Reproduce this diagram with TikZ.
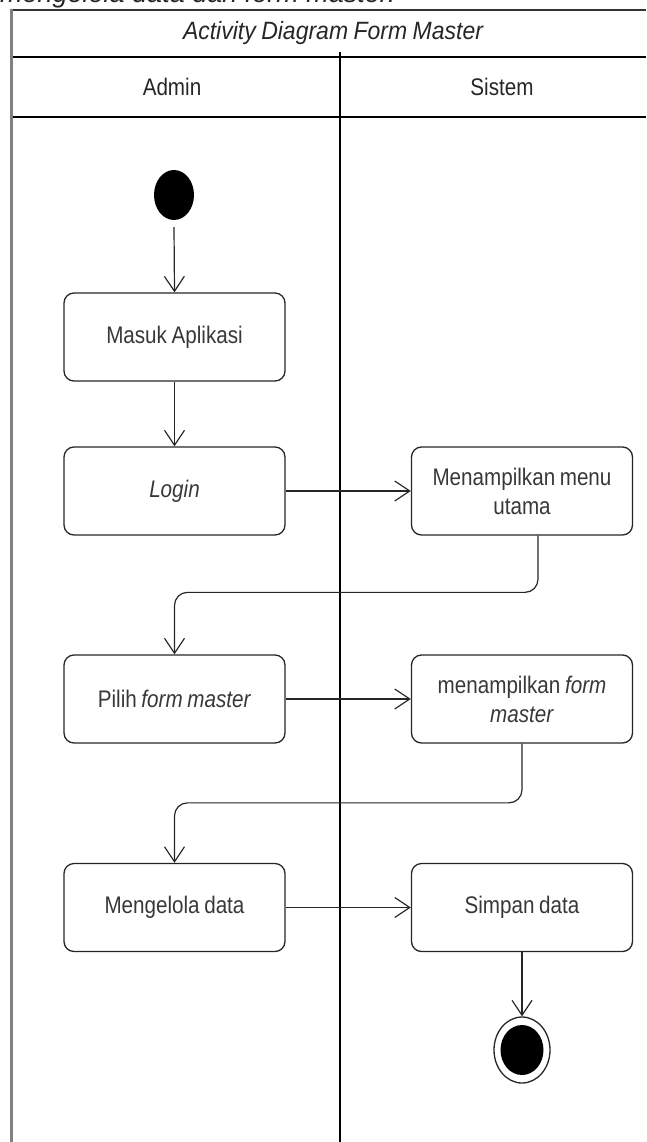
\documentclass[tikz,border=0pt]{standalone}
\usepackage{fontspec}
\setmainfont{Liberation Sans}[FakeStretch=0.86,WordSpace=0.8]
\newfontfamily\plainfont{Liberation Sans}
\newfontfamily\titlefont{Liberation Sans}[FakeStretch=0.92,WordSpace=0.85]
\usetikzlibrary{shapes.geometric,arrows.meta,calc}
\begin{document}
\begin{tikzpicture}[x=1pt,y=-1pt,
  actbox/.style={draw=black!85, line width=1.3pt, rounded corners=10pt,
    minimum width=221pt, minimum height=88pt, align=center,
    inner sep=0pt, font=\fontsize{24}{29}\selectfont, text=black!78},
  arr/.style={draw=black!85, line width=1.2pt, -{Straight Barb[length=15pt,width=20pt,line width=1.2pt]}},
  lane/.style={draw=black, line width=1.3pt},
  lanetext/.style={font=\fontsize{24}{28}\selectfont, text=black!85}]
\useasboundingbox (0,0) rectangle (646,1142);
\clip (0,0) rectangle (646,1142);
% cut-off caption at top
\node[anchor=base west, inner sep=0pt, font=\plainfont\itshape\fontsize{27}{30}\selectfont, text=black!85] (cap) at (0,3) {mengelola data dari form master.};
% swimlane frame
\draw[lane, draw=black!80] (10,10) -- (646,10);
\draw[draw=black!50, line width=3pt] (11.5,9) -- (11.5,1142);
\draw[lane] (13,57) -- (646,57);
\draw[lane] (13,117) -- (646,117);
\draw[lane] (340,52) -- (340,1142);
\node[lanetext, font=\titlefont\itshape\fontsize{25}{28}\selectfont] (title) at (333,33) {Activity Diagram Form Master};
\node[lanetext] (admin) at (172,87) {Admin};
\node[lanetext] (sistem) at (502,87) {Sistem};
% nodes
\node[ellipse, fill=black, minimum width=40pt, minimum height=50pt, inner sep=0pt] (start) at (174,195) {};
\node[actbox] (masuk) at (174.5,337) {Masuk Aplikasi};
\node[actbox] (login) at (174.5,491) {\itshape Login};
\node[actbox] (menu) at (522,491) {Menampilkan menu\\utama};
\node[actbox] (pilih) at (174.5,699) {Pilih \textit{form master}};
\node[actbox] (formm) at (522,699) {menampilkan \textit{form}\\\textit{master}};
\node[actbox] (kelola) at (174.5,907.5) {Mengelola data};
\node[actbox] (simpan) at (522,907.5) {Simpan data};
\node[ellipse, draw=black!85, line width=1.3pt, fill=white, minimum width=56pt, minimum height=66pt, inner sep=0pt] (end) at (522,1050) {};
\node[ellipse, fill=black, minimum width=43pt, minimum height=50pt, inner sep=0pt] (endin) at (end.center) {};
% connectors
\draw[arr] ([yshift=-7pt]start.south) -- (masuk.north);
\draw[arr] (masuk.south) -- (login.north);
\draw[arr] (login.east) -- (menu.west);
\draw[arr, rounded corners=13pt] ([xshift=16pt]menu.south) |- ($(pilih.north)+(0,-62)$) -- (pilih.north);
\draw[arr] (pilih.east) -- (formm.west);
\draw[arr, rounded corners=13pt] (formm.south) |- ($(kelola.north)+(0,-60)$) -- (kelola.north);
\draw[arr] (kelola.east) -- (simpan.west);
\draw[arr] (simpan.south) -- (end.north);
\end{tikzpicture}
\end{document}
